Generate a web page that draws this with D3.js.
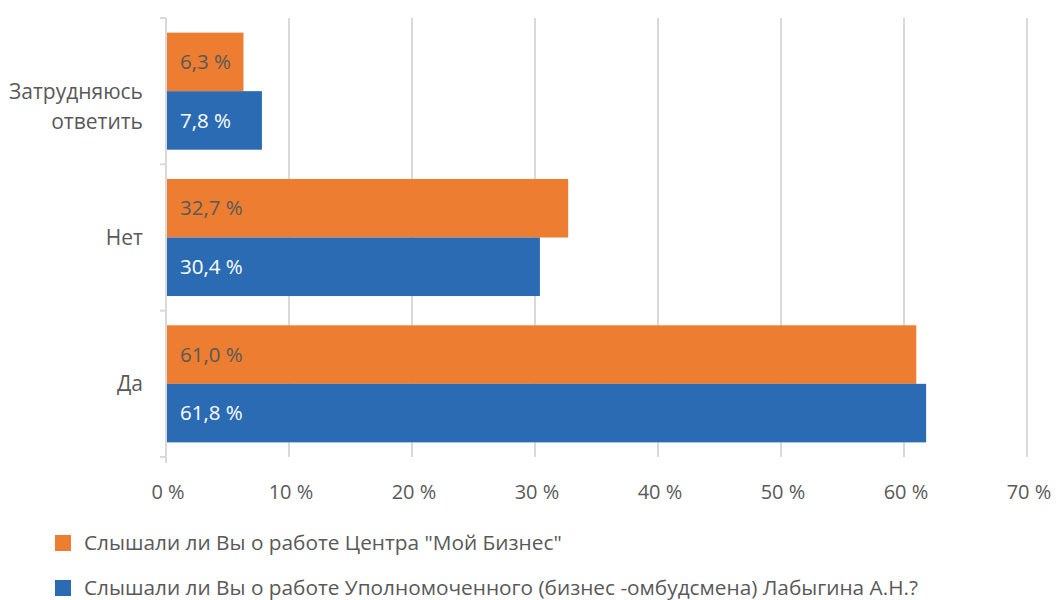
<!DOCTYPE html>
<html>
<head>
<meta charset="utf-8">
<script src="https://cdn.jsdelivr.net/npm/d3@7"></script>
<style>
  body { margin: 0; background: #fff; }
  svg text { font-family: "Open Sans", sans-serif; fill: #595959; }
</style>
</head>
<body>
<svg width="1056" height="600"></svg>
<script>
// categories top to bottom
var categories = ["Затрудняюсь ответить", "Нет", "Да"];
var seriesNames = [
  "Слышали ли Вы о работе Центра \"Мой Бизнес\"",
  "Слышали ли Вы о работе Уполномоченного (бизнес -омбудсмена) Лабыгина А.Н.?"
];
var centerValues = [6.3, 32.7, 61.0];
var ombudsmanValues = [7.8, 30.4, 61.8];
var xTicks = [0, 10, 20, 30, 40, 50, 60, 70];
var colors = ["#ED7D31", "#2B6BB4"];

var svg = d3.select("svg");
var plotLeft = 166, plotRight = 1027, plotTop = 18, plotBottom = 457;

var x = d3.scaleLinear().domain([0, 70]).range([plotLeft, plotRight]);
var y = d3.scaleBand().domain(categories).range([plotTop, plotBottom]).paddingInner(0.2).paddingOuter(0.1);
var y1 = d3.scaleBand().domain([0, 1]).range([0, y.bandwidth()]);

// gridlines
svg.append("g").selectAll("line")
  .data(xTicks.slice(1))
  .enter().append("line")
  .attr("x1", d => x(d)).attr("x2", d => x(d))
  .attr("y1", plotTop).attr("y2", plotBottom)
  .attr("stroke", "#d9d9d9").attr("stroke-width", 2);

// x tick labels
svg.append("g").selectAll("text")
  .data(xTicks)
  .enter().append("text")
  .attr("x", d => x(d) + 2).attr("y", 492).attr("dy", "0.35em")
  .attr("text-anchor", "middle")
  .style("font-size", "20px")
  .text(d => d + " %");

// bars
var series = [centerValues, ombudsmanValues];
series.forEach(function(vals, si) {
  var g = svg.append("g");
  g.selectAll("rect")
    .data(categories)
    .enter().append("rect")
    .attr("x", x(0))
    .attr("y", d => y(d) + y1(si))
    .attr("width", (d, i) => x(vals[i]) - x(0))
    .attr("height", y1.bandwidth())
    .attr("fill", colors[si]);
  g.selectAll("text")
    .data(categories)
    .enter().append("text")
    .attr("x", x(0) + 14)
    .attr("y", d => y(d) + y1(si) + y1.bandwidth() / 2)
    .attr("dy", "0.35em")
    .style("font-size", "20.5px")
    .style("fill", si === 0 ? "#595959" : "#ffffff")
    .text((d, i) => d3.format(".1f")(vals[i]).replace(".", ",") + " %");
});

// left axis line with ticks between categories
var axis = svg.append("g");
axis.append("line")
  .attr("x1", plotLeft).attr("x2", plotLeft).attr("y1", plotTop).attr("y2", plotBottom + 6)
  .attr("stroke", "#d9d9d9").attr("stroke-width", 2);
var bounds = [plotTop].concat(categories.map(c => y(c) + y.bandwidth() + y.step() * y.paddingInner() / 2));
bounds[bounds.length - 1] = plotBottom;
axis.selectAll(".tk")
  .data(bounds)
  .enter().append("line")
  .attr("x1", plotLeft - 6).attr("x2", plotLeft)
  .attr("y1", d => d).attr("y2", d => d)
  .attr("stroke", "#d9d9d9").attr("stroke-width", 2);

// category labels
svg.append("g").selectAll("text")
  .data(categories)
  .enter().append("text")
  .attr("x", 143)
  .attr("y", d => y(d) + y.bandwidth() / 2)
  .attr("text-anchor", "end")
  .style("font-size", "21px")
  .each(function(d) {
    var words = d.split(" ");
    var t = d3.select(this);
    words.forEach(function(w, i) {
      t.append("tspan")
        .attr("x", 143)
        .attr("dy", i === 0 ? "0.35em" : "30px")
        .text(w);
    });
  });

// legend
var legend = svg.append("g").selectAll("g")
  .data(seriesNames)
  .enter().append("g")
  .attr("transform", (d, i) => "translate(55," + (535 + i * 45) + ")");
legend.append("rect").attr("width", 16).attr("height", 16).attr("fill", (d, i) => colors[i]);
legend.append("text")
  .attr("x", 29).attr("y", 8).attr("dy", "0.35em")
  .style("font-size", "20.8px")
  .text(d => d);
</script>
</body>
</html>
